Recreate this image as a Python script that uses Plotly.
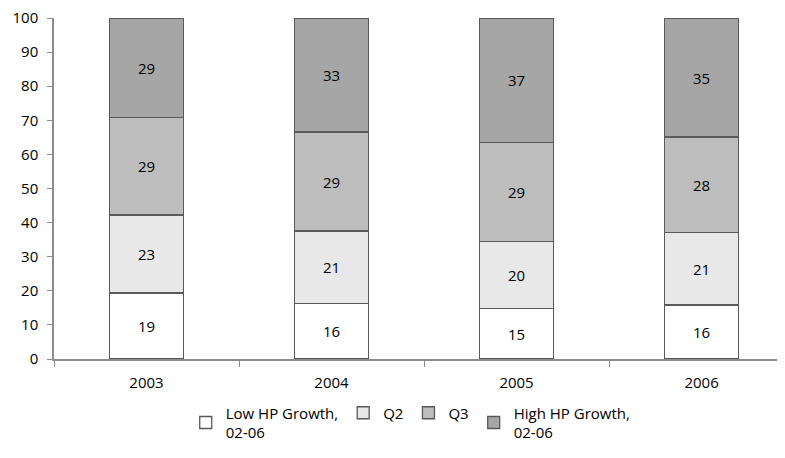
import plotly.graph_objects as go

years = ["2003", "2004", "2005", "2006"]
series_names = ["Low HP Growth,<br>02-06", "Q2", "Q3", "High HP Growth,<br>02-06"]
low = [19.4, 16.3, 14.8, 15.8]
q2 = [22.8, 21.2, 19.7, 21.2]
q3 = [28.7, 29.1, 28.9, 28.1]
high = [29.1, 33.4, 36.6, 34.9]
colors = ["#FFFFFF", "#E8E8E8", "#BDBDBD", "#A6A6A6"]

fig = go.Figure()
for name, vals, col in zip(series_names, [low, q2, q3, high], colors):
    fig.add_trace(go.Bar(
        x=years, y=vals, name=name,
        marker=dict(color=col, line=dict(color="#595959", width=1.3)),
        texttemplate="%{y:.0f}", textposition="inside", insidetextanchor="middle",
        textfont=dict(color="black", size=15), width=0.4,
    ))

fig.update_layout(
    barmode="stack",
    width=777, height=450,
    margin=dict(l=46, r=0, t=10, b=99, autoexpand=False),
    plot_bgcolor="white", paper_bgcolor="white",
    font=dict(family="Open Sans, sans-serif", size=15, color="black"),
    showlegend=True,
    legend=dict(orientation="h", x=0.488, xanchor="center", y=-0.11, yanchor="top",
                font=dict(size=15), traceorder="normal", itemwidth=30,
                tracegroupgap=0),
    uniformtext=dict(mode="show", minsize=10),
)
fig.update_xaxes(
    type="category", range=[-0.5, 3.451], automargin=False,
    showline=True, linecolor="#8C8C8C", linewidth=1.5,
    ticks="outside", tickson="boundaries", ticklen=6, tickcolor="#8C8C8C",
    ticklabelstandoff=9,
    showgrid=False, zeroline=False,
)
fig.update_yaxes(
    range=[0, 100], dtick=10, automargin=False,
    showline=True, linecolor="#8C8C8C", linewidth=1.5,
    ticks="outside", ticklen=5, tickcolor="#8C8C8C",
    ticklabelstandoff=6, ticklabeloverflow="allow",
    showgrid=False, zeroline=False,
)
fig.write_html("out.html")
